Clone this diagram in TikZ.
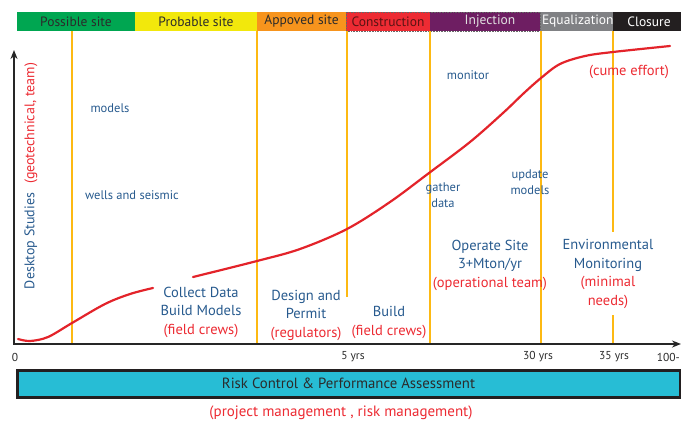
\documentclass[tikz,border=0pt]{standalone}
\usepackage{fontspec}
\setmainfont{PT Sans}
\usetikzlibrary{arrows.meta, positioning}
\definecolor{sitegreen}{HTML}{00A651}
\definecolor{siteyellow}{HTML}{F2E80C}
\definecolor{siteorange}{HTML}{F7941D}
\definecolor{sitered}{HTML}{ED2B33}
\definecolor{sitepurple}{HTML}{6E1E62}
\definecolor{sitegray}{HTML}{808184}
\definecolor{siteblack}{HTML}{231F20}
\definecolor{bartext}{HTML}{2B2B2B}
\definecolor{constext}{HTML}{5A1414}
\definecolor{guideline}{HTML}{FDB913}
\definecolor{effortred}{HTML}{E3232A}
\definecolor{labelblue}{HTML}{275A8E}
\definecolor{notered}{HTML}{EC2A32}
\definecolor{riskcyan}{HTML}{27BDD5}

\begin{document}
\begin{tikzpicture}[x=1pt, y=-1pt, >=Stealth, every node/.style={font=\fontsize{13.5}{15}\selectfont},
  phase/.style={anchor=north west, minimum height=19pt, minimum width=#1, inner sep=2pt, outer sep=0pt},
  guide/.style={guideline, line width=1.3pt},
  effort/.style={effortred, line width=2.2pt, line cap=round},
  stage/.style={text=labelblue, align=center, font=\fontsize{14.5}{18.5}\selectfont},
  memo/.style={text=labelblue, align=center, font=\fontsize{12.5}{16}\selectfont},
  tick/.style={font=\fontsize{11.5}{13}\selectfont, text=bartext}]
\useasboundingbox (0,0) rectangle (681,424);

% phase bar
\node[phase=118pt, fill=sitegreen, text=bartext] (possible) at (17,12) {Possible site};
\node[phase=122pt, fill=siteyellow, text=bartext] (probable) at (135,12) {Probable site};
\node[phase=89pt, fill=siteorange, text=bartext] (approved) at (257,12) {Appoved site};
\node[phase=84pt, fill=sitered, text=constext] (construction) at (346,12) {Construction};
\node[phase=110pt, fill=sitepurple, text=white!88!black] (injection) at (430,12) {\hspace{10pt}Injection};
\node[phase=73pt, fill=sitegray, text=white] (equalization) at (540,12) {Equalization};
\node[phase=72pt, fill=siteblack, text=white] (closure) at (613,12) {Closure};
\draw[densely dotted, black!60, line width=0.6pt] (construction.north west) rectangle (injection.south east);

% guides
\foreach \x in {72,257,430,541}
  \draw[guide] (\x,31) -- (\x,343);
\draw[guide] (347,31) -- (347,297);
\draw[guide] (613,31) -- (613,232) (613,315) -- (613,343);

% axes
\coordinate (origin) at (14,344);
\coordinate (ytop) at (14,50);
\coordinate (xend) at (681,344);
\draw[line width=2.5pt, black!85, {Stealth[length=9pt,width=7pt]}-{Stealth[length=9pt,width=7pt]}] (ytop) -- (origin) -- (xend);

% cumulative effort, broken under the first label
\draw[effort] plot[smooth, tension=0.55] coordinates {
  (18,339) (30,341) (48,337) (72,323) (105,304) (130,294) (153,288)};
\draw[effort] plot[smooth, tension=0.55] coordinates {
  (193,277) (257,261) (300,249) (347,229) (390,202) (429,173) (470,142) (503,113)
  (524,93) (541,78) (560,64) (585,56) (613,52) (670,46)};

\node[rotate=90, text=labelblue, font=\fontsize{14}{16}\selectfont] (desktop) at (31,176) {Desktop Studies\hspace{9pt}\textcolor{notered}{(geotechnical, team)}};

\node[memo] (models) at (110,108) {models};
\node[memo] (wells) at (132,195) {wells and seismic};
\node[memo] (monitor) at (468,75) {monitor};
\node[memo] (gather) at (443,195) {gather\\data};
\node[memo] (update) at (530,182) {update\\models};
\node[text=notered, font=\fontsize{14.5}{16}\selectfont] (cume) at (629,72) {(cume effort)};

\node[stage] (collect) at (201,312) {Collect Data\\Build Models\\\textcolor{notered}{(field crews)}};
\node[stage] (design) at (306,315) {Design and\\Permit\\\textcolor{notered}{(regulators)}};
\node[stage] (build) at (389,322.5) {Build\\\textcolor{notered}{(field crews)}};
\node[stage] (operate) at (490,265) {Operate Site\\3+Mton/yr\\\textcolor{notered}{(operational team)}};
\node[stage] (environ) at (608,274) {Environmental\\Monitoring\\\textcolor{notered}{(minimal}\\\textcolor{notered}{needs)}};

% time ticks
\node[tick] (t0) at (15,357) {0};
\node[tick] (t5) at (353,357) {5 yrs};
\node[tick] (t30) at (538,357) {30 yrs};
\node[tick] (t35) at (614,357) {35 yrs};
\node[tick, anchor=east, inner sep=0pt] (t100) at (680,357) {100-};

% risk bar
\node[draw=siteblack, line width=3pt, fill=riskcyan, minimum width=663pt, minimum height=27pt, anchor=north west, font=\fontsize{14.8}{16}\selectfont, text=bartext] (risk) at (15.5,368.5) {Risk Control \& Performance Assessment};
\node[text=notered, font=\fontsize{15}{17}\selectfont] (mgmt) at (341,413) {(project management , risk management)};
\end{tikzpicture}
\end{document}
